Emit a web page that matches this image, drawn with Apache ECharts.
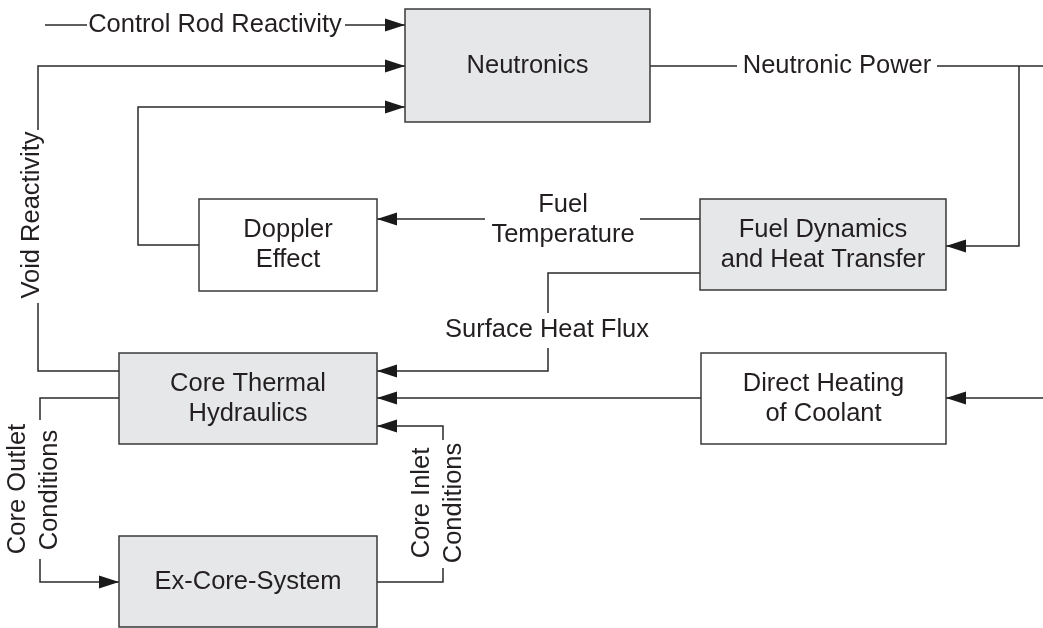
<!DOCTYPE html>
<html>
<head>
<meta charset="utf-8">
<title>Reactor model block diagram</title>
<script src="https://cdn.jsdelivr.net/npm/echarts@6/dist/echarts.min.js"></script>
<style>
  html, body { margin: 0; padding: 0; background: #fff; }
  #chart { width: 1043px; height: 628px; }
</style>
</head>
<body>
<div id="chart"></div>
<script>
// blocks: caption, corners [x0, y0, x1, y1] in diagram units, shaded or not
var boxNames = ['Neutronics', 'Doppler\nEffect', 'Fuel Dynamics\nand Heat Transfer',
    'Core Thermal\nHydraulics', 'Direct Heating\nof Coolant', 'Ex-Core-System'];
var boxCorners = [
    [405, 9, 650, 122],
    [199, 199, 377, 291],
    [700, 199, 946, 290],
    [119, 353, 377, 444],
    [701, 353, 946, 444],
    [119, 536, 377, 627]
];
var boxShaded = [true, false, true, true, false, true];

// connector polylines, the ones with arrow=1 end on a block
var linkPoints = [
    [[45, 25], [87, 25]],
    [[345, 25], [405, 25]],
    [[38, 130], [38, 66], [405, 66]],
    [[38, 303], [38, 371], [119, 371]],
    [[199, 245], [138, 245], [138, 107], [405, 107]],
    [[650, 66], [737, 66]],
    [[937, 66], [1043, 66]],
    [[1019, 66], [1019, 246], [946, 246]],
    [[700, 219], [640, 219]],
    [[485, 219], [377, 219]],
    [[700, 273], [548, 273], [548, 313]],
    [[548, 348], [548, 371], [377, 371]],
    [[701, 398], [377, 398]],
    [[1043, 398], [946, 398]],
    [[443, 440], [443, 426], [377, 426]],
    [[119, 398], [40, 398], [40, 420]],
    [[40, 559], [40, 582], [119, 582]],
    [[377, 582], [443, 582], [443, 568]]
];
var linkArrow = [0, 1, 1, 0, 1, 0, 0, 1, 0, 1, 0, 1, 1, 1, 1, 0, 1, 0];

// signal names written on the connectors
var labelTexts = ['Control Rod Reactivity', 'Neutronic Power', 'Fuel', 'Temperature',
    'Surface Heat Flux', 'Void Reactivity', 'Core Outlet', 'Conditions', 'Core Inlet', 'Conditions'];
var labelCenters = [[215, 25], [837, 66], [563, 205], [563, 235], [547, 330],
    [32, 215], [18, 489], [50, 490], [422, 503], [454, 503]];
var labelVertical = [0, 0, 0, 0, 0, 1, 1, 1, 1, 1];

var ink = '#231f20';
var lineInk = '#2a2a2a';
var fontSize = 25.5;
var fontFamily = '"Liberation Sans", Arial, Helvetica, sans-serif';

var myChart = echarts.init(document.getElementById('chart'));

function renderBox(params, api) {
    var i = params.dataIndex;
    var r = boxCorners[i];
    var a = api.coord([r[0], r[1]]);
    var b = api.coord([r[2], r[3]]);
    return {
        type: 'group',
        children: [{
            type: 'rect',
            shape: { x: a[0], y: a[1], width: b[0] - a[0], height: b[1] - a[1] },
            style: { fill: boxShaded[i] ? '#e6e7e8' : '#ffffff', stroke: '#3a3a3a', lineWidth: 1.5 }
        }, {
            type: 'text',
            x: (a[0] + b[0]) / 2,
            y: (a[1] + b[1]) / 2,
            style: {
                text: boxNames[i], fill: ink, fontSize: fontSize, fontFamily: fontFamily,
                align: 'center', verticalAlign: 'middle', lineHeight: 30
            }
        }]
    };
}

function renderLink(params, api) {
    var i = params.dataIndex;
    var pts = linkPoints[i].map(function (p) { return api.coord(p); });
    var children = [{
        type: 'polyline',
        shape: { points: pts },
        style: { fill: null, stroke: lineInk, lineWidth: 1.5 }
    }];
    if (linkArrow[i]) {
        var tip = pts[pts.length - 1], prev = pts[pts.length - 2];
        var dx = tip[0] - prev[0], dy = tip[1] - prev[1];
        var len = Math.sqrt(dx * dx + dy * dy);
        dx /= len; dy /= len;
        var bx = tip[0] - dx * 20, by = tip[1] - dy * 20;
        children.push({
            type: 'polygon',
            shape: { points: [tip, [bx - dy * 6.5, by + dx * 6.5], [bx + dy * 6.5, by - dx * 6.5]] },
            style: { fill: '#1a1a1a' }
        });
    }
    return { type: 'group', children: children };
}

function renderLabel(params, api) {
    var i = params.dataIndex;
    var p = api.coord(labelCenters[i]);
    return {
        type: 'text',
        x: p[0],
        y: p[1],
        rotation: labelVertical[i] ? Math.PI / 2 : 0,
        style: {
            text: labelTexts[i], fill: ink, fontSize: fontSize, fontFamily: fontFamily,
            align: 'center', verticalAlign: 'middle'
        }
    };
}

myChart.setOption({
    animation: false,
    grid: { left: 0, right: 0, top: 0, bottom: 0 },
    xAxis: { type: 'value', min: 0, max: 1043, show: false },
    yAxis: { type: 'value', min: 0, max: 628, inverse: true, show: false },
    series: [{
        type: 'custom',
        clip: false,
        renderItem: renderLink,
        data: linkPoints.map(function (p) { return p[0]; })
    }, {
        type: 'custom',
        clip: false,
        renderItem: renderBox,
        data: boxCorners.map(function (r) { return [(r[0] + r[2]) / 2, (r[1] + r[3]) / 2]; })
    }, {
        type: 'custom',
        clip: false,
        renderItem: renderLabel,
        data: labelCenters
    }]
});
</script>
</body>
</html>
